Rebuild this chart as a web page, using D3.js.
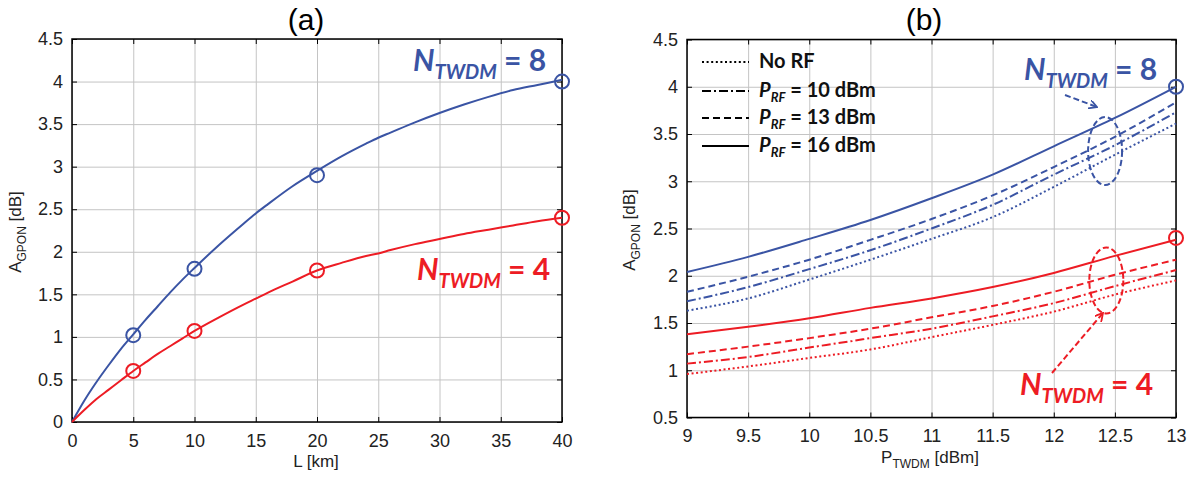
<!DOCTYPE html>
<html>
<head>
<meta charset="utf-8">
<script src="https://d3js.org/d3.v7.min.js"></script>
<style>
  body { margin: 0; background: #fff; }
  text { font-family: "Liberation Sans", Arial, sans-serif; }
  .grid line { stroke: #c4c4c4; stroke-width: 1; }
  .grid path { display: none; }
  .ax path { display: none; }
  .ax line { stroke: #000; stroke-width: 1; }
  .ax text { font-size: 18px; fill: #222; }
  .anno { font-family: Lato, "Open Sans", sans-serif; font-weight: bold; }
</style>
</head>
<body>
<svg id="fig" width="1195" height="477"></svg>
<script>
// ---- panel (a) data: A_GPON vs fibre length
const aL        = [0, 1, 2, 3, 4, 5, 6, 7, 8, 9, 10, 12, 14, 15, 16, 18, 20, 22, 24, 25, 26, 28, 30, 32, 34, 36, 38, 40];
const aBlue     = [0, 0.25, 0.47, 0.67, 0.86, 1.03, 1.2, 1.36, 1.52, 1.67, 1.81, 2.08, 2.33, 2.45, 2.56, 2.77, 2.95, 3.12, 3.27, 3.34, 3.4, 3.52, 3.63, 3.73, 3.82, 3.9, 3.96, 4.02];
const aRed      = [0, 0.14, 0.27, 0.38, 0.49, 0.6, 0.7, 0.8, 0.89, 0.98, 1.07, 1.23, 1.38, 1.45, 1.52, 1.65, 1.78, 1.87, 1.95, 1.98, 2.02, 2.09, 2.15, 2.21, 2.26, 2.31, 2.36, 2.40];
const aMarkL    = [5, 10, 20, 40];
const aMarkBlue = [1.02, 1.8, 2.9, 4.0];
const aMarkRed  = [0.6, 1.07, 1.78, 2.4];
const aXTicks   = [0, 5, 10, 15, 20, 25, 30, 35, 40];
const aYTicks   = [0, 0.5, 1, 1.5, 2, 2.5, 3, 3.5, 4, 4.5];

// ---- panel (b) data: A_GPON vs P_TWDM for several RF powers
const bP         = [9, 9.5, 10, 10.5, 11, 11.5, 12, 12.5, 13];
const bBlueNoRF  = [1.63, 1.76, 1.96, 2.17, 2.39, 2.62, 2.94, 3.28, 3.61];
const bBlue10    = [1.73, 1.88, 2.07, 2.27, 2.5, 2.75, 3.07, 3.38, 3.73];
const bBlue13    = [1.83, 1.99, 2.17, 2.38, 2.6, 2.85, 3.15, 3.47, 3.835];
const bBlue16    = [2.04, 2.2, 2.39, 2.59, 2.82, 3.07, 3.37, 3.67, 4.0];
const bRedNoRF   = [0.96, 1.04, 1.13, 1.22, 1.35, 1.48, 1.62, 1.80, 1.95];
const bRed10     = [1.07, 1.14, 1.24, 1.34, 1.44, 1.57, 1.71, 1.89, 2.06];
const bRed13     = [1.17, 1.25, 1.34, 1.44, 1.56, 1.68, 1.83, 2.01, 2.17];
const bRed16     = [1.38, 1.46, 1.55, 1.66, 1.76, 1.88, 2.03, 2.21, 2.38];
const bMarkP     = [13, 13];
const bMarkVal   = [4.0, 2.4];
const bXTicks    = [9, 9.5, 10, 10.5, 11, 11.5, 12, 12.5, 13];
const bYTicks    = [0.5, 1, 1.5, 2, 2.5, 3, 3.5, 4, 4.5];
const legendLabels = ["10", "13", "16"];

const BLUE = "#3a54a4", RED = "#ed1c24";
const dashes = { norf: "2,2.6", rf10: "9,3,2,3", rf13: "7,4", rf16: null };

const svg = d3.select("#fig");

function makePanel(o) {
  const x = d3.scaleLinear().domain(o.xd).range([o.left, o.right]);
  const y = d3.scaleLinear().domain(o.yd).range([o.bottom, o.top]);
  const h = o.bottom - o.top, w = o.right - o.left;
  const g = svg.append("g");

  // grid
  g.append("g").attr("class", "grid").attr("transform", "translate(0," + o.bottom + ")")
    .call(d3.axisBottom(x).tickValues(o.xt).tickSize(-h).tickFormat(""));
  g.append("g").attr("class", "grid").attr("transform", "translate(" + o.left + ",0)")
    .call(d3.axisLeft(y).tickValues(o.yt).tickSize(-w).tickFormat(""));

  // ticks (inward) and labels
  g.append("g").attr("class", "ax").attr("transform", "translate(0," + o.bottom + ")")
    .call(d3.axisBottom(x).tickValues(o.xt).tickSizeInner(-5).tickSizeOuter(0).tickPadding(12).tickFormat(d3.format("~g")));
  g.append("g").attr("class", "ax").attr("transform", "translate(0," + o.top + ")")
    .call(d3.axisTop(x).tickValues(o.xt).tickSizeInner(-5).tickSizeOuter(0).tickFormat(""));
  g.append("g").attr("class", "ax").attr("transform", "translate(" + o.left + ",0)")
    .call(d3.axisLeft(y).tickValues(o.yt).tickSizeInner(-5).tickSizeOuter(0).tickPadding(9).tickFormat(d3.format("~g")));
  g.append("g").attr("class", "ax").attr("transform", "translate(" + o.right + ",0)")
    .call(d3.axisRight(y).tickValues(o.yt).tickSizeInner(-5).tickSizeOuter(0).tickFormat(""));

  // box
  g.append("rect").attr("x", o.left).attr("y", o.top).attr("width", w).attr("height", h)
    .attr("fill", "none").attr("stroke", "#000").attr("stroke-width", 1.5);

  // title
  g.append("text").attr("x", o.titleX).attr("y", 30).attr("text-anchor", "middle")
    .style("font-size", "30px").text(o.title);

  return { g, x, y };
}

function curve(p, xs, ys, color, dash) {
  const line = d3.line().x((d, i) => p.x(xs[i])).y(d => p.y(d)).curve(d3.curveMonotoneX);
  p.g.append("path").datum(ys).attr("d", line).attr("fill", "none")
    .attr("stroke", color).attr("stroke-width", 2)
    .attr("stroke-dasharray", dash);
}

function circles(p, xs, ys, color) {
  p.g.selectAll(null).data(ys).enter().append("circle")
    .attr("cx", (d, i) => p.x(xs[i])).attr("cy", d => p.y(d)).attr("r", 7)
    .attr("fill", "none").attr("stroke", color).attr("stroke-width", 2);
}

function nLabel(g, x, y, n, color) {
  const t = g.append("text").attr("class", "anno").attr("x", x).attr("y", y).attr("fill", color);
  t.append("tspan").style("font-size", "30px").style("font-style", "italic").text("N");
  t.append("tspan").style("font-size", "20px").style("font-style", "italic").attr("dy", 8).text("TWDM");
  t.append("tspan").style("font-size", "30px").attr("dy", -8).text(" = " + n);
}

function subLabel(g, x, y, main, sub, rest, rot) {
  const t = g.append("text").style("font-size", "17px").attr("fill", "#222")
    .attr("text-anchor", "middle")
    .attr("transform", "translate(" + x + "," + y + ")" + (rot ? " rotate(-90)" : ""));
  t.append("tspan").text(main);
  t.append("tspan").style("font-size", "12px").attr("dy", 5).text(sub);
  t.append("tspan").attr("dy", -5).text(rest);
}

// ---------------- panel (a)
const pa = makePanel({ xd: [0, 40], yd: [0, 4.5], left: 72, right: 562, top: 39, bottom: 422,
  xt: aXTicks, yt: aYTicks, title: "(a)", titleX: 306 });
curve(pa, aL, aBlue, BLUE, null);
curve(pa, aL, aRed, RED, null);
circles(pa, aMarkL, aMarkBlue, BLUE);
circles(pa, aMarkL, aMarkRed, RED);
nLabel(pa.g, 413, 71, 8, BLUE);
nLabel(pa.g, 417, 280, 4, RED);
subLabel(pa.g, 21, 232, "A", "GPON", " [dB]", true);
subLabel(pa.g, 316, 467, "L [km]", "", "", false);

// ---------------- panel (b)
const pb = makePanel({ xd: [9, 13], yd: [0.5, 4.5], left: 687, right: 1176, top: 39.5, bottom: 417.5,
  xt: bXTicks, yt: bYTicks, title: "(b)", titleX: 924 });
[[bBlueNoRF, dashes.norf], [bBlue10, dashes.rf10], [bBlue13, dashes.rf13], [bBlue16, dashes.rf16]]
  .forEach(s => curve(pb, bP, s[0], BLUE, s[1]));
[[bRedNoRF, dashes.norf], [bRed10, dashes.rf10], [bRed13, dashes.rf13], [bRed16, dashes.rf16]]
  .forEach(s => curve(pb, bP, s[0], RED, s[1]));
circles(pb, bMarkP.slice(0, 1), bMarkVal.slice(0, 1), BLUE);
circles(pb, bMarkP.slice(1), bMarkVal.slice(1), RED);

nLabel(pb.g, 1024, 80, 8, BLUE);
nLabel(pb.g, 1020, 395, 4, RED);
subLabel(pb.g, 635, 230, "A", "GPON", " [dB]", true);
subLabel(pb.g, 930, 463, "P", "TWDM", " [dBm]", false);

// ellipses and arrows around line bundles
const defs = svg.append("defs");
[["arB", BLUE], ["arR", RED]].forEach(a => {
  defs.append("marker").attr("id", a[0]).attr("viewBox", "0 0 10 10").attr("refX", 9).attr("refY", 5)
    .attr("markerWidth", 9).attr("markerHeight", 9).attr("markerUnits", "userSpaceOnUse").attr("orient", "auto")
    .append("path").attr("d", "M0,0 L9,5 L0,10").attr("fill", "none").attr("stroke", a[1]).attr("stroke-width", 2);
});
pb.g.append("ellipse").attr("cx", pb.x(12.42)).attr("cy", pb.y(3.32)).attr("rx", 17).attr("ry", 34)
  .attr("fill", "none").attr("stroke", BLUE).attr("stroke-width", 2).attr("stroke-dasharray", "6,3");
pb.g.append("line").attr("x1", 1065).attr("y1", 95).attr("x2", 1097).attr("y2", 107)
  .attr("stroke", BLUE).attr("stroke-width", 2).attr("stroke-dasharray", "6,3").attr("marker-end", "url(#arB)");
pb.g.append("ellipse").attr("cx", pb.x(12.43)).attr("cy", pb.y(1.95)).attr("rx", 17).attr("ry", 33)
  .attr("fill", "none").attr("stroke", RED).attr("stroke-width", 2).attr("stroke-dasharray", "6,3");
pb.g.append("line").attr("x1", 1052).attr("y1", 373).attr("x2", 1103).attr("y2", 313)
  .attr("stroke", RED).attr("stroke-width", 2).attr("stroke-dasharray", "6,3").attr("marker-end", "url(#arR)");

// legend
const lg = pb.g.append("g");
const legY = [62, 91, 118, 146];
const legDash = [dashes.norf, dashes.rf10, dashes.rf13, dashes.rf16];
legY.forEach((yy, i) => {
  lg.append("line").attr("x1", 702).attr("x2", 749).attr("y1", yy).attr("y2", yy)
    .attr("stroke", "#000").attr("stroke-width", 2).attr("stroke-dasharray", legDash[i]);
  const t = lg.append("text").attr("class", "anno").attr("x", 759).attr("y", yy + 6).style("font-size", "20px").attr("fill", "#111");
  if (i === 0) { t.text("No RF"); return; }
  t.append("tspan").style("font-style", "italic").text("P");
  t.append("tspan").style("font-style", "italic").style("font-size", "13px").attr("dy", 5).text("RF");
  t.append("tspan").attr("dy", -5).text(" = " + legendLabels[i - 1] + " dBm");
});
</script>
</body>
</html>
